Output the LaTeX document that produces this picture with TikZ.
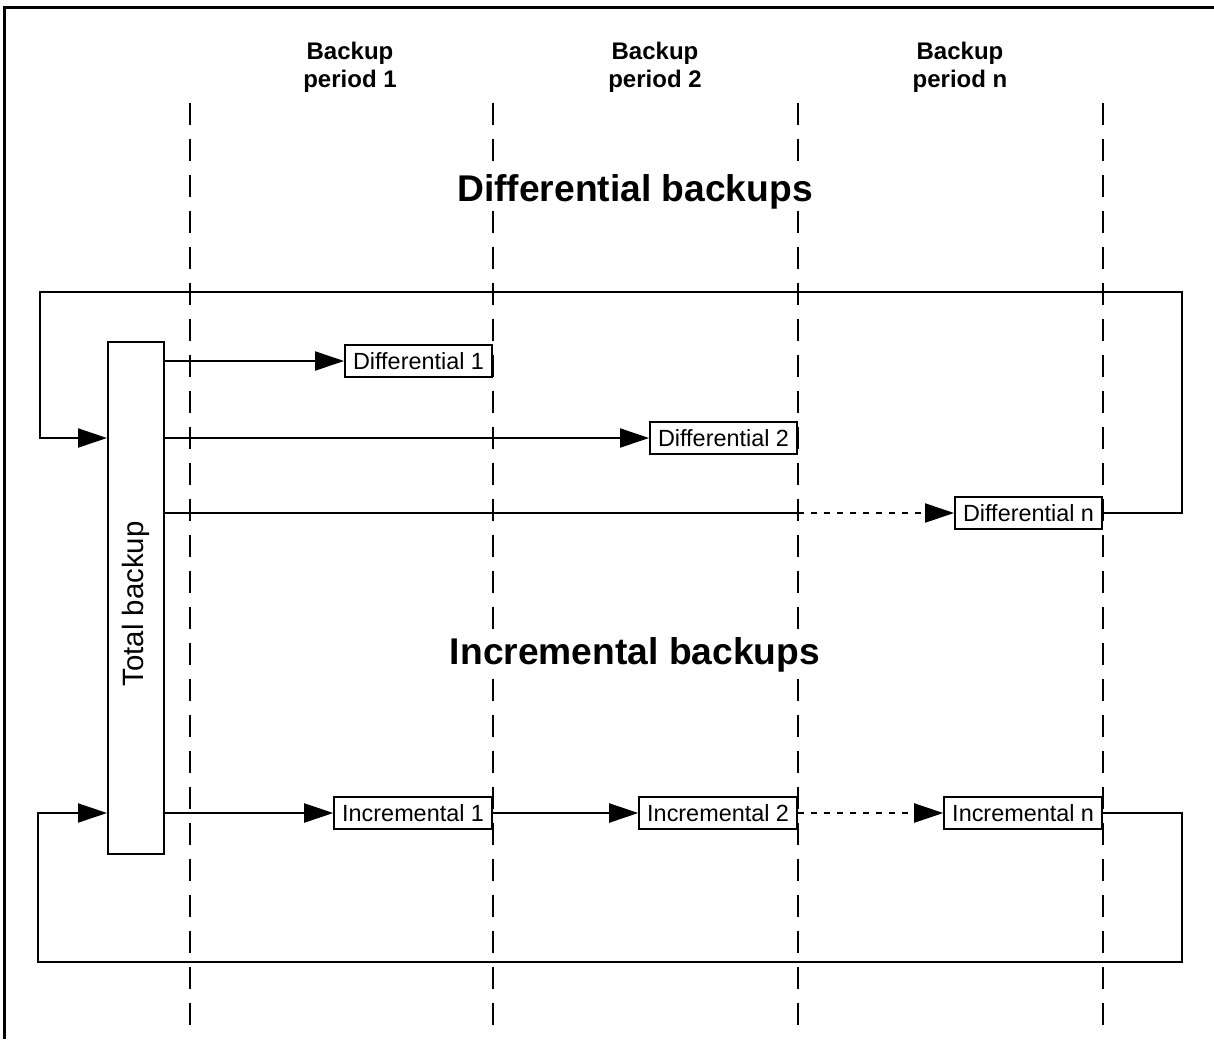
\documentclass[tikz,border=0pt]{standalone}
\usepackage{fontspec}
\setmainfont{Liberation Sans}
\usetikzlibrary{arrows.meta, positioning, calc}
\tikzset{
  box/.style={rectangle, draw, line width=1pt, inner xsep=4pt, inner ysep=0pt,
    minimum height=16pt, font=\fontsize{11.7}{14}\selectfont},
  totalbox/.style={rectangle, draw, line width=1pt,
    minimum width=28pt, minimum height=256pt},
  arrow/.style={-{Triangle[length=14.5pt, width=9.5pt]}, line width=1pt},
  dotarrow/.style={arrow, dash pattern=on 3pt off 3.5pt},
  line/.style={line width=1pt},
  periodline/.style={line width=1pt, dash pattern=on 11pt off 7pt},
  frame/.style={line width=1.5pt},
  header/.style={align=center, font=\fontsize{12}{14}\selectfont\bfseries},
  title/.style={fill=white, inner sep=1pt, font=\fontsize{18.6}{22}\selectfont\bfseries}
}

\begin{document}
\begin{tikzpicture}[x=0.5pt, y=-0.5pt]
  \useasboundingbox (0,0) rectangle (1214,1039);

  % Frame
  \draw[frame] (1214,7) -- (4,7) -- (4,1039);

  % Period boundaries
  \foreach \x [count=\i] in {190,493,798,1103} {
    \coordinate (top\i) at (\x,103);
    \draw[periodline] (top\i) -- (\x,1039);
  }

  % Headers
  \node[header] (hp1) at (350,67) {Backup\\period 1};
  \node[header] (hp2) at (655,67) {Backup\\period 2};
  \node[header] (hpn) at (960,67) {Backup\\period n};

  \node[title] (difftitle) at (635,192) {Differential backups};
  \node[title] (inctitle) at (635,655) {Incremental backups};

  % Total backup
  \node[totalbox] (total) at (136,598) {};
  \node[rotate=90, font=\fontsize{14.7}{17}\selectfont] (totallabel) at (136,604) {Total backup};

  % Differential boxes
  \node[box, anchor=east] (d1) at (493,361) {Differential 1};
  \node[box, anchor=east] (d2) at (798,438) {Differential 2};
  \node[box, anchor=east] (dn) at (1103,513) {Differential n};

  % Incremental boxes
  \node[box, anchor=east] (i1) at (493,813) {Incremental 1};
  \node[box, anchor=east] (i2) at (798,813) {Incremental 2};
  \node[box, anchor=east] (incn) at (1103,813) {Incremental n};

  % Differential arrows
  \draw[arrow] (total.east |- d1) -- (d1.west);
  \draw[arrow] (total.east |- d2) -- (d2.west);
  \draw[line] (total.east |- dn) -- (top3 |- dn);
  \draw[dotarrow] (top3 |- dn) -- (dn.west);
  \draw[arrow] (dn.east) -| (1182,292) -| (40,438) -- (total.west |- d2);

  % Incremental arrows
  \draw[arrow] (total.east |- i1) -- (i1.west);
  \draw[arrow] (i1.east) -- (i2.west);
  \draw[dotarrow] (i2.east) -- (incn.west);
  \draw[arrow] (incn.east) -| (1182,962) -| (38,813) -- (total.west |- i1);
\end{tikzpicture}
\end{document}
